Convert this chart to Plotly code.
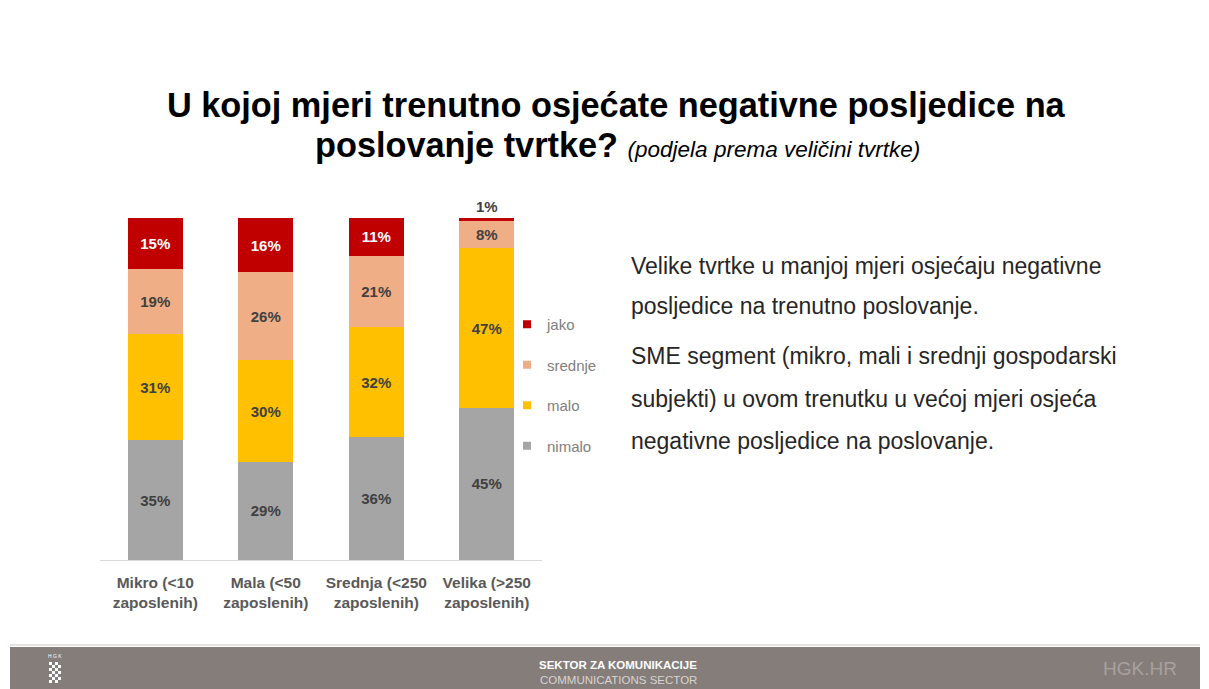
import plotly.graph_objects as go

categories = ["Mikro (<10<br>zaposlenih)", "Mala (<50<br>zaposlenih)",
              "Srednja (<250<br>zaposlenih)", "Velika (>250<br>zaposlenih)"]
series_names = ["nimalo", "malo", "srednje", "jako"]
nimalo = [35, 29, 36, 45]
malo = [31, 30, 32, 47]
srednje = [19, 26, 21, 8]
jako = [15, 16, 11, 1]
values = [nimalo, malo, srednje, jako]
colors = ["#A5A5A5", "#FFC000", "#F0AE86", "#C00000"]
text_colors = ["#404040", "#404040", "#404040", "#FFFFFF"]

W, H = 1209, 689
FONT = "Liberation Sans, Arial"


def px(x):
    return x / W


def py(y):
    return 1 - y / H


fig = go.Figure()
for name, vals, col, tcol in zip(series_names, values, colors, text_colors):
    if name == "jako":
        pos = ["inside", "inside", "inside", "outside"]
    else:
        pos = "inside"
    fig.add_trace(go.Bar(
        x=categories, y=vals, name=name, marker_color=col,
        marker_line_width=0,
        text=[f"<b>{v}%</b>" for v in vals], textposition=pos,
        insidetextanchor="middle", textangle=0,
        insidetextfont=dict(family=FONT, size=15, color=tcol),
        outsidetextfont=dict(family=FONT, size=15, color="#404040"),
        cliponaxis=False, showlegend=False, width=0.5,
    ))

# legend entries (small square swatches), top to bottom
for name in ["jako", "srednje", "malo", "nimalo"]:
    col = colors[series_names.index(name)]
    fig.add_trace(go.Scatter(
        x=[None], y=[None], mode="markers", name=name, legendgroup=name,
        marker=dict(symbol="square", size=8, color=col),
    ))

fig.update_layout(
    width=W, height=H,
    barmode="stack", barnorm="percent",
    paper_bgcolor="white", plot_bgcolor="white",
    margin=dict(l=0, r=0, t=0, b=0),
    showlegend=True,
    legend=dict(x=px(507), y=py(308), xanchor="left", yanchor="top",
                traceorder="grouped", tracegroupgap=18,
                font=dict(family=FONT, size=15, color="#808080"),
                bgcolor="rgba(0,0,0,0)", itemwidth=30),
    xaxis=dict(domain=[px(100), px(542)], showline=True, linecolor="#D9D9D9",
               linewidth=1, ticks="", showgrid=False, ticklabelstandoff=8,
               tickfont=dict(family=FONT, size=15.5, color="#595959")),
    yaxis=dict(domain=[py(560), py(218)], range=[0, 100],
               visible=False, showgrid=False),
    font=dict(family=FONT),
)
fig.update_xaxes(tickvals=categories, ticktext=[f"<b>{c}</b>" for c in categories])

# Title
fig.add_annotation(x=px(616), y=py(105), xref="paper", yref="paper",
                   text="<b>U kojoj mjeri trenutno osjećate negativne posljedice na</b>",
                   showarrow=False, font=dict(size=34.3, color="#000000", family=FONT),
                   xanchor="center", yanchor="middle")
fig.add_annotation(x=px(617), y=py(145), xref="paper", yref="paper",
                   text="<b>poslovanje tvrtke?</b> <i><span style='font-size:22.5px'>(podjela prema veličini tvrtke)</span></i>",
                   showarrow=False, font=dict(size=34.3, color="#000000", family=FONT),
                   xanchor="center", yanchor="middle")

# Right-hand text
lines = [("Velike tvrtke u manjoj mjeri osjećaju negativne", 266),
         ("posljedice na trenutno poslovanje.", 306),
         ("SME segment (mikro, mali i srednji gospodarski", 356),
         ("subjekti) u ovom trenutku u većoj mjeri osjeća", 399),
         ("negativne posljedice na poslovanje.", 441)]
for txt, yy in lines:
    fig.add_annotation(x=px(629), y=py(yy), xref="paper", yref="paper",
                       text=txt, showarrow=False, xanchor="left", yanchor="middle",
                       font=dict(size=23, color="#262626", family=FONT))

# Footer
fig.add_shape(type="rect", xref="paper", yref="paper", x0=px(10), x1=px(1200),
              y0=0, y1=py(647), fillcolor="#857D7A", line_width=0, layer="below")
fig.add_shape(type="line", xref="paper", yref="paper", x0=px(10), x1=px(1200),
              y0=py(645), y1=py(645), line=dict(color="#E6E3E2", width=2))
fig.add_annotation(x=px(618), y=py(665), xref="paper", yref="paper",
                   text="<b>SEKTOR ZA KOMUNIKACIJE</b>", showarrow=False,
                   font=dict(size=11.5, color="#FFFFFF", family="Liberation Sans Narrow, Liberation Sans"),
                   xanchor="center", yanchor="middle")
fig.add_annotation(x=px(618), y=py(680), xref="paper", yref="paper",
                   text="COMMUNICATIONS SECTOR", showarrow=False,
                   font=dict(size=11.5, color="#D8D4D2", family="Liberation Sans Narrow, Liberation Sans"),
                   xanchor="center", yanchor="middle")
fig.add_annotation(x=px(1140), y=py(668), xref="paper", yref="paper",
                   text="HGK.HR", showarrow=False,
                   font=dict(size=19, color="#A8A19E", family=FONT),
                   xanchor="center", yanchor="middle")
fig.add_annotation(x=px(55), y=py(656), xref="paper", yref="paper",
                   text="H G K", showarrow=False,
                   font=dict(size=5, color="#FFFFFF", family=FONT),
                   xanchor="center", yanchor="middle")
cs = 3
for r in range(7):
    for c in range(4):
        if (r + c) % 2 == 0:
            x0 = 49 + c * cs
            y0 = 662 + r * cs
            fig.add_shape(type="rect", xref="paper", yref="paper",
                          x0=px(x0), x1=px(x0 + cs), y0=py(y0 + cs), y1=py(y0),
                          fillcolor="#FFFFFF", line_width=0)

fig.write_html("out.html", config={"displayModeBar": False},
               post_script="document.body.style.margin='0';document.body.style.overflow='hidden';")
